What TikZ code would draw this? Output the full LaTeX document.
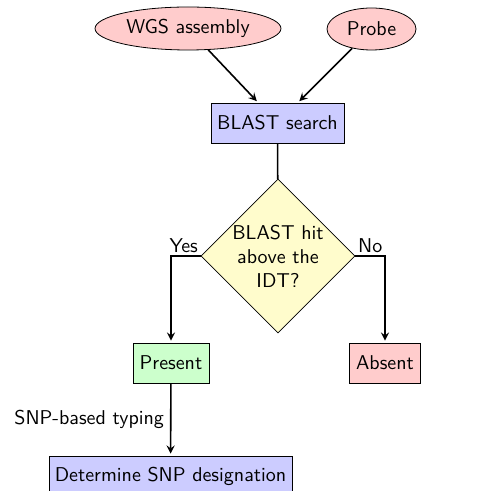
\documentclass[tikz,border=0pt]{standalone}
\usetikzlibrary{shapes.geometric,arrows}
\begin{document}
\begin{tikzpicture}[x=0.5pt,y=-0.5pt,
  font=\sffamily,
  base/.style={draw, inner sep=2pt, minimum height=20pt},
  inbox/.style={base, ellipse, fill=red!20},
  procbox/.style={base, rectangle, fill=blue!20},
  decbox/.style={draw, diamond, fill=yellow!20, aspect=1, minimum width=77pt, minimum height=77pt, inner sep=0pt, align=center},
  yesbox/.style={base, rectangle, fill=green!20},
  nobox/.style={base, rectangle, fill=red!20},
  conn/.style={draw, thick, -stealth, shorten >=1pt}]
\useasboundingbox (0,0) rectangle (498,491);
\node[inbox, minimum width=91.5pt, minimum height=21.5pt] (wgs) at (188,28.5) {WGS assembly};
\node[inbox, minimum width=44.5pt, minimum height=21pt] (probe) at (371.5,29) {Probe};
\node[procbox, minimum width=66.5pt] (blast) at (277.5,123) {BLAST search};
\node[decbox] (dec) at (278,256) {BLAST hit\\above the\\IDT?};
\node[yesbox, minimum width=38pt] (pres) at (171,363) {Present};
\node[nobox, minimum width=35.5pt] (abs) at (385,363) {Absent};
\node[procbox, minimum width=121.5pt] (snp) at (170.5,476) {Determine SNP designation};
\draw[conn] (wgs) -- (blast);
\draw[conn] (probe) -- (blast);
\draw[thick] (blast) -- (dec);
\draw[conn] (dec.west) node[anchor=south east, inner sep=1pt] {Yes} -| (pres);
\draw[conn] (dec.east) node[anchor=south west, inner sep=1pt] {No} -| (abs);
\draw[conn] (pres) -- node[left, inner sep=3pt] {SNP-based typing} (snp);
\end{tikzpicture}
\end{document}
